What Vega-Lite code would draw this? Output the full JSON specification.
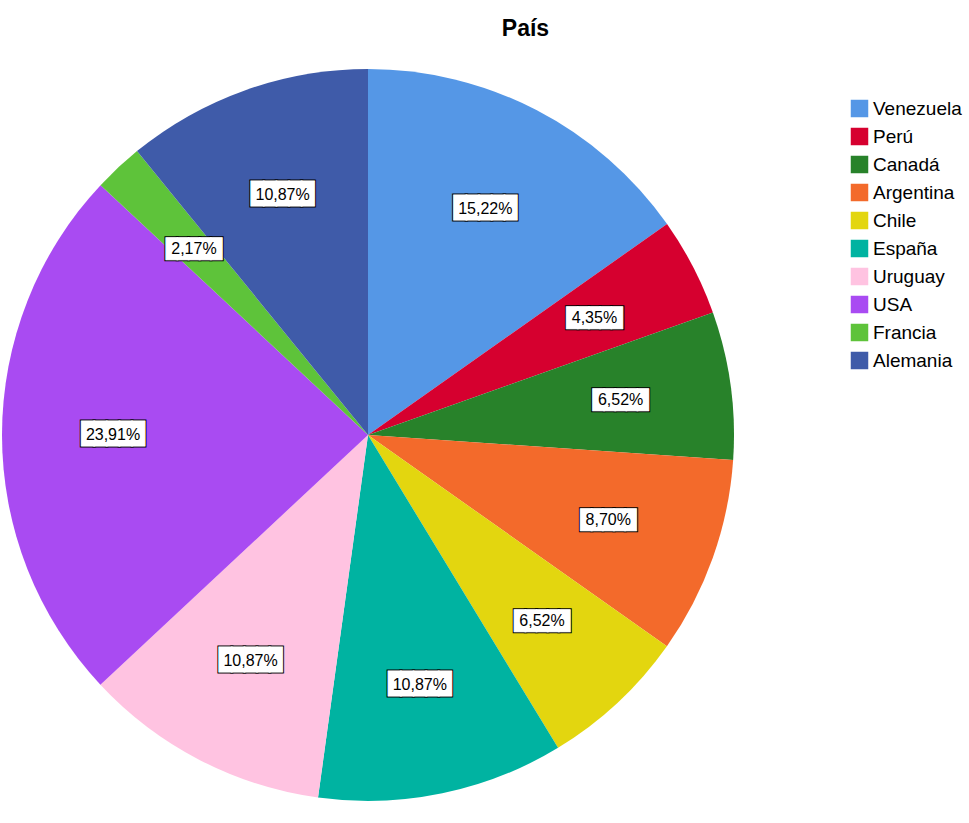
{
  "$schema": "https://vega.github.io/schema/vega-lite/v6.json",
  "autosize": "none",
  "width": 969,
  "height": 778,
  "padding": {"top": 45, "left": 0, "right": 0, "bottom": 0},
  "background": "white",
  "title": {
    "text": "País",
    "anchor": "middle",
    "dx": 41,
    "offset": 4,
    "font": "Liberation Sans",
    "fontSize": 23,
    "fontWeight": "bold",
    "color": "#000000"
  },
  "config": {"view": {"stroke": null}},
  "data": {
    "values": [
      {"pais": "Venezuela", "pct": 15.22, "label": "15,22%", "orden": 1},
      {"pais": "Perú", "pct": 4.35, "label": "4,35%", "orden": 2},
      {"pais": "Canadá", "pct": 6.52, "label": "6,52%", "orden": 3},
      {"pais": "Argentina", "pct": 8.70, "label": "8,70%", "orden": 4},
      {"pais": "Chile", "pct": 6.52, "label": "6,52%", "orden": 5},
      {"pais": "España", "pct": 10.87, "label": "10,87%", "orden": 6},
      {"pais": "Uruguay", "pct": 10.87, "label": "10,87%", "orden": 7},
      {"pais": "USA", "pct": 23.91, "label": "23,91%", "orden": 8},
      {"pais": "Francia", "pct": 2.17, "label": "2,17%", "orden": 9},
      {"pais": "Alemania", "pct": 10.87, "label": "10,87%", "orden": 10}
    ]
  },
  "encoding": {
    "theta": {"field": "pct", "type": "quantitative", "stack": true},
    "order": {"field": "orden", "type": "quantitative"},
    "x": {"value": 368},
    "y": {"value": 390}
  },
  "layer": [
    {
      "mark": {"type": "arc", "outerRadius": 366, "stroke": null},
      "encoding": {
        "color": {
          "field": "pais",
          "type": "nominal",
          "scale": {
            "domain": ["Venezuela", "Perú", "Canadá", "Argentina", "Chile", "España", "Uruguay", "USA", "Francia", "Alemania"],
            "range": ["#5597E6", "#D6002F", "#28822A", "#F36A2B", "#E3D60F", "#00B3A1", "#FFC3E1", "#A94BF2", "#5EC33A", "#3F5BA9"]
          },
          "legend": {
            "title": null,
            "orient": "none",
            "legendX": 850,
            "legendY": 54,
            "padding": 0,
            "symbolType": "square",
            "symbolSize": 306,
            "symbolStrokeWidth": 0,
            "symbolOpacity": 1,
            "labelFont": "Liberation Sans",
            "labelFontSize": 19,
            "labelColor": "#000000",
            "labelOffset": 4,
            "rowPadding": 8,
            "labelLimit": 200
          }
        }
      }
    },
    {
      "mark": {"type": "text", "font": "DejaVu Sans Mono", "align": "center", "baseline": "middle", "fill": "#000000", "stroke": "#000000", "strokeWidth": 3},
      "encoding": {
        "radius": {"value": 255},
        "text": {"value": "█████"},
        "size": {"condition": {"test": "datum.pct >= 10", "value": 21}, "value": 18.5}
      }
    },
    {
      "mark": {"type": "text", "font": "DejaVu Sans Mono", "align": "center", "baseline": "middle", "fill": "#FFFFFF", "stroke": "#FFFFFF", "strokeWidth": 1},
      "encoding": {
        "radius": {"value": 255},
        "text": {"value": "█████"},
        "size": {"condition": {"test": "datum.pct >= 10", "value": 21}, "value": 18.5}
      }
    },
    {
      "mark": {"type": "text", "font": "Liberation Sans", "fontSize": 16, "align": "center", "baseline": "middle", "fill": "#000000"},
      "encoding": {
        "radius": {"value": 255},
        "text": {"field": "label", "type": "nominal"}
      }
    }
  ]
}
